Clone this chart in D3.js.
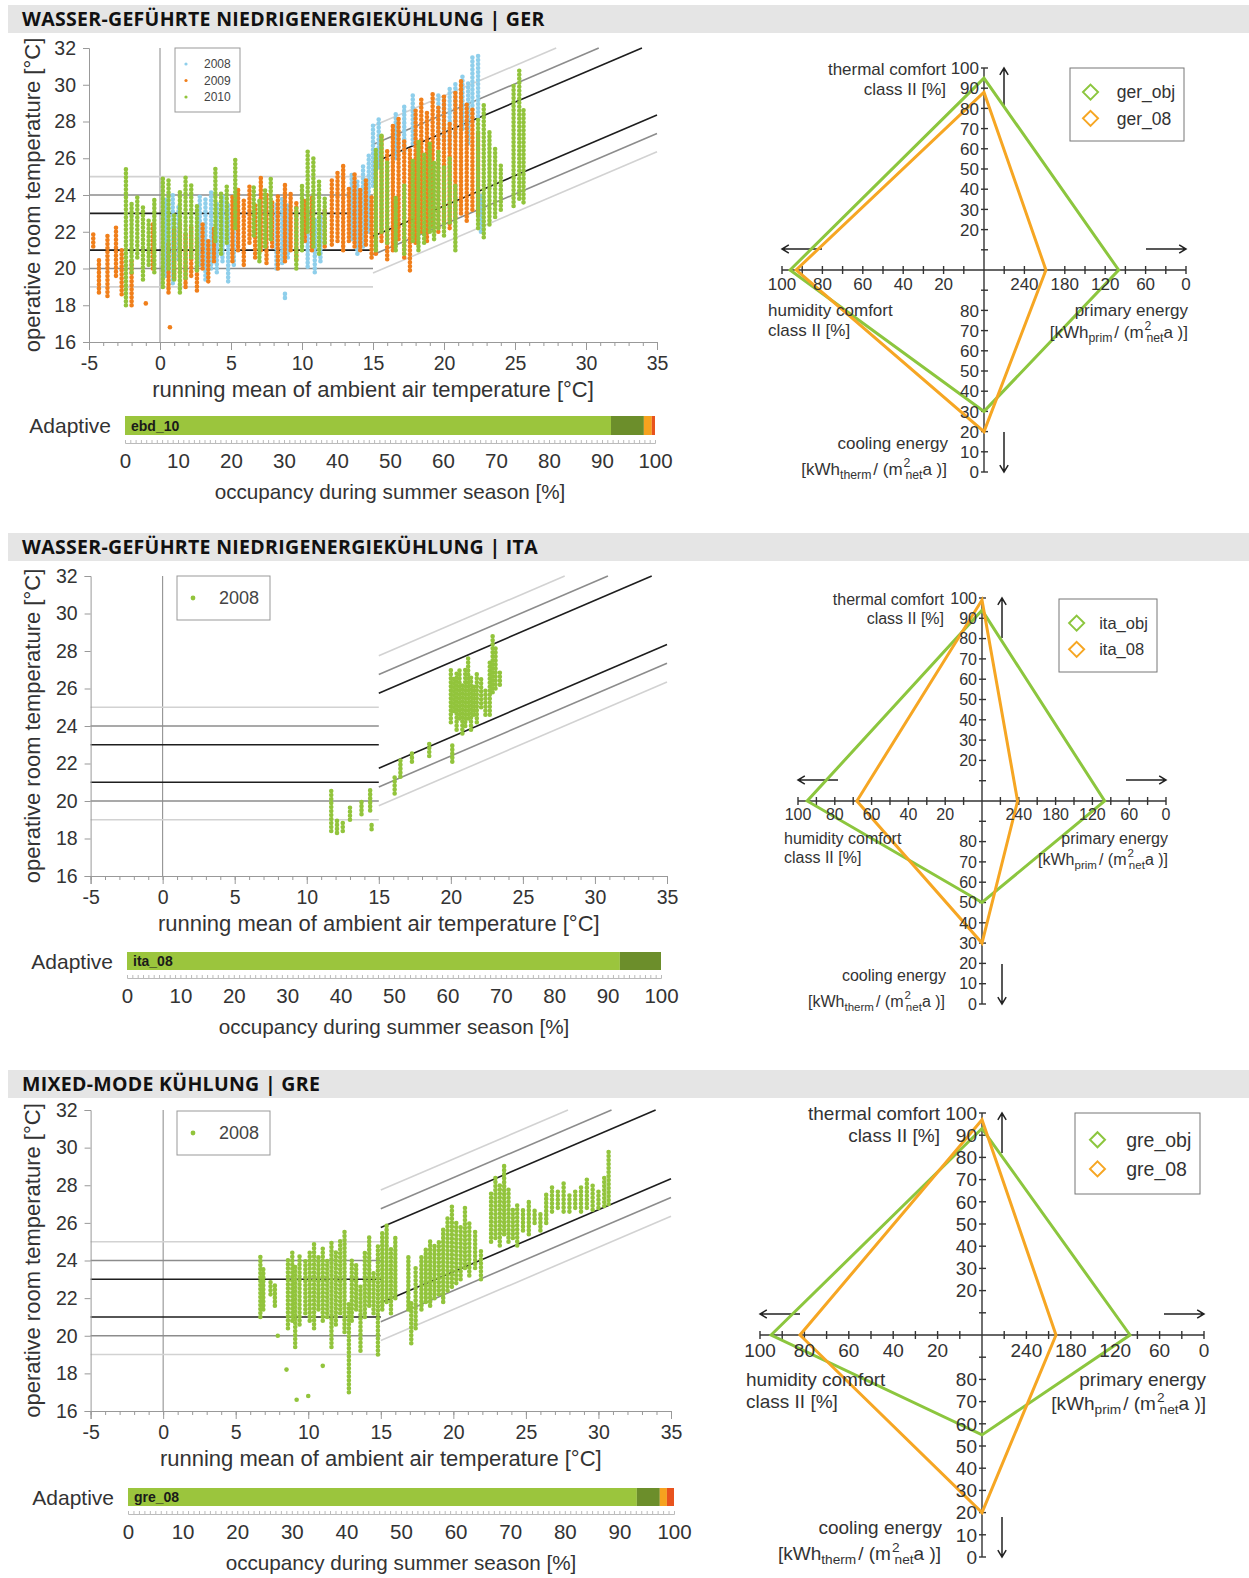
<!DOCTYPE html>
<html>
<head>
<meta charset="utf-8">
<script src="https://cdn.jsdelivr.net/npm/d3@7"></script>
<style>
  body { margin: 0; background: #fff; }
  svg { display: block; font-family: "Liberation Sans", Arial, sans-serif; }
</style>
</head>
<body>
<svg id="chart" width="1249" height="1578"></svg>
<script>
// ---- tick labels ----
var tempTicks = [-5, 0, 5, 10, 15, 20, 25, 30, 35];
var roomTicks = [16, 18, 20, 22, 24, 26, 28, 30, 32];
var occTicks = [0, 10, 20, 30, 40, 50, 60, 70, 80, 90, 100];
var comfortTicks = [20, 30, 40, 50, 60, 70, 80, 90, 100];
var coolingTicks = [80, 70, 60, 50, 40, 30, 20, 10, 0];
var humidityTicks = [100, 80, 60, 40, 20];
var primaryTicks = [240, 180, 120, 60, 0];

// ---- comfort band (EN 15251), temperatures ----
var bandLevels = [19, 20, 21, 23, 24, 25];                 // flat part, -5..15 °C
var bandSloped = [                                         // [x0, y0, x1, y1]
  [15, 19.75, 35, 26.35], [15, 20.75, 35, 27.35], [15, 21.75, 35, 28.35],
  [15, 25.75, 33.94, 32], [15, 26.75, 30.9, 32], [15, 27.75, 27.9, 32]
];

// ---- scatter strips [running mean, room temp low, room temp high] ----
var ger2008 = [
  [0.4, 19.6, 23.8], [0.9, 19.2, 24.1], [1.3, 20.5, 23.5], [2.8, 20.2, 24.0], [3.2, 19.4, 23.8],
  [3.6, 20.0, 24.2], [4.0, 19.8, 23.6], [4.4, 20.4, 24.0], [4.8, 19.3, 23.5], [5.2, 20.2, 23.8],
  [8.2, 20.0, 23.6], [8.6, 20.3, 24.0], [8.8, 18.4, 18.8], [9.0, 20.6, 23.5], [10.4, 20.1, 23.2],
  [10.9, 19.8, 22.8], [11.3, 20.4, 23.0], [13.5, 21.6, 25.2], [13.9, 20.8, 24.8], [14.3, 21.2, 25.6],
  [14.7, 22.0, 26.2], [15.0, 24.5, 27.8], [15.4, 25.5, 28.2], [16.6, 26.0, 28.6], [17.2, 26.4, 28.8],
  [17.8, 26.8, 29.5], [19.6, 26.8, 29.6], [20.0, 27.0, 29.2], [20.4, 26.5, 29.8], [20.8, 27.2, 30.1],
  [21.3, 27.6, 30.6], [21.7, 26.8, 30.2], [22.0, 28.0, 31.7], [22.4, 28.3, 31.6], [22.6, 22.0, 24.0]
];
var ger2009 = [
  [-4.7, 21.2, 22.0], [-4.3, 18.7, 20.5], [-3.7, 18.5, 21.9], [-3.1, 19.6, 22.3], [-2.7, 18.6, 21.0],
  [-2.0, 18.0, 20.4], [-1.0, 18.1, 18.2], [-0.5, 20.0, 22.6], [0.7, 16.8, 16.9], [0.6, 18.7, 21.5],
  [1.0, 19.5, 22.3], [1.4, 19.8, 22.6], [1.8, 19.0, 22.0], [2.2, 19.6, 22.4], [2.6, 18.8, 21.8],
  [3.0, 20.0, 22.5], [3.4, 19.3, 21.6], [3.8, 20.4, 22.3], [5.1, 20.4, 24.0], [5.5, 21.0, 24.3],
  [5.9, 20.2, 23.8], [6.3, 21.4, 24.6], [6.7, 20.6, 23.6], [7.1, 21.0, 25.0], [7.5, 20.3, 24.1],
  [7.9, 21.2, 23.8], [8.3, 20.0, 24.0], [8.8, 20.4, 24.6], [9.2, 21.0, 24.2], [9.6, 20.5, 23.6],
  [10.2, 21.5, 23.8], [10.7, 21.0, 24.0], [11.6, 21.2, 23.2], [12.1, 21.3, 24.8], [12.5, 21.5, 25.4],
  [12.9, 21.0, 25.6], [13.3, 21.5, 24.5], [13.7, 21.2, 25.2], [14.1, 21.0, 24.4], [14.5, 21.3, 25.0],
  [14.9, 20.6, 24.0], [15.2, 20.8, 26.0], [15.6, 21.5, 27.2], [16.0, 20.5, 26.5], [16.4, 21.0, 27.8],
  [16.8, 21.6, 28.3], [17.2, 20.6, 27.0], [17.6, 19.9, 26.5], [18.0, 21.4, 28.8], [18.4, 22.0, 29.2],
  [18.8, 21.5, 28.5], [19.2, 22.3, 29.5], [19.6, 22.0, 28.9], [20.0, 22.6, 29.4], [20.4, 22.2, 28.0],
  [20.8, 22.8, 29.6], [21.2, 23.0, 30.2], [21.6, 22.6, 29.0], [22.0, 23.2, 28.8], [22.4, 23.0, 27.5]
];
var ger2010 = [
  [-2.4, 18.0, 25.6], [-2.0, 19.8, 23.6], [-1.6, 20.6, 24.0], [-1.2, 19.4, 23.4], [-0.8, 20.2, 22.8],
  [-0.4, 19.8, 23.8], [0.2, 19.0, 25.0], [0.6, 20.0, 24.8], [1.0, 19.4, 23.0], [1.4, 18.7, 24.2],
  [1.8, 19.5, 25.0], [2.2, 20.6, 24.6], [2.6, 19.9, 23.4], [3.9, 21.5, 25.6], [4.3, 20.8, 24.2],
  [4.7, 21.4, 24.6], [5.3, 22.2, 26.0], [6.6, 21.8, 24.6], [7.0, 20.4, 23.8], [7.4, 21.2, 24.4],
  [7.8, 21.6, 25.0], [9.6, 20.0, 23.4], [10.0, 21.0, 24.6], [10.4, 22.0, 26.4], [10.8, 21.2, 26.2],
  [11.2, 20.8, 24.8], [11.6, 21.4, 24.0], [15.2, 21.0, 26.6], [15.6, 22.0, 27.4], [16.0, 21.4, 25.8],
  [16.6, 21.0, 24.0], [17.2, 20.8, 24.6], [17.8, 21.5, 26.0], [18.2, 21.0, 27.0], [18.6, 21.4, 26.2],
  [19.0, 22.0, 26.8], [19.3, 21.6, 25.8], [19.6, 22.2, 26.4], [20.0, 21.8, 25.6], [20.4, 22.5, 26.0],
  [20.8, 21.0, 24.6], [22.4, 22.2, 28.2], [22.8, 21.7, 29.0], [23.2, 22.4, 27.6], [23.6, 22.8, 26.6],
  [24.0, 23.2, 25.8], [24.9, 23.4, 30.0], [25.3, 23.8, 30.8], [25.6, 23.6, 28.8]
];
var ita2008 = [
  [11.7, 18.4, 20.6], [12.1, 18.3, 19.0], [12.5, 18.4, 19.0], [13.0, 19.0, 19.7], [13.8, 19.3, 20.0],
  [14.4, 19.5, 20.6], [14.5, 18.5, 18.9], [16.1, 20.4, 21.3], [16.5, 21.3, 22.3], [17.3, 22.1, 22.7],
  [18.5, 22.4, 23.2], [20.1, 22.1, 23.1], [20.0, 24.2, 27.0], [20.2, 24.8, 26.6], [20.4, 23.8, 26.8],
  [20.6, 24.4, 27.0], [20.8, 23.6, 26.2], [21.0, 24.0, 27.2], [21.2, 24.4, 27.7], [21.4, 23.8, 26.6],
  [21.6, 24.6, 26.2], [21.8, 24.2, 26.8], [22.1, 25.0, 26.6], [22.4, 24.6, 26.0], [22.7, 24.6, 27.4],
  [22.9, 25.8, 28.8], [23.1, 26.0, 28.2], [23.4, 26.2, 27.0]
];
var gre2008 = [
  [6.7, 21.0, 24.3], [6.9, 21.4, 23.6], [7.4, 22.2, 23.0], [7.7, 21.6, 22.8], [7.9, 20.0, 20.1],
  [8.5, 18.2, 18.3], [8.6, 20.4, 24.2], [8.9, 20.8, 24.6], [9.1, 19.4, 23.8], [9.2, 16.6, 16.7],
  [9.4, 20.6, 24.4], [9.8, 21.2, 24.0], [10.0, 16.8, 16.9], [10.1, 20.8, 24.6], [10.4, 20.4, 24.9],
  [10.7, 21.4, 24.2], [11.0, 18.4, 18.5], [11.0, 20.8, 24.8], [11.3, 21.0, 24.0], [11.6, 19.4, 25.0],
  [11.9, 20.6, 24.6], [12.2, 21.2, 25.2], [12.5, 20.2, 25.7], [12.8, 17.0, 21.8], [13.0, 20.8, 24.2],
  [13.3, 21.4, 23.8], [13.6, 19.2, 22.8], [13.9, 21.0, 24.6], [14.2, 21.6, 25.3], [14.5, 21.2, 23.4],
  [14.8, 19.0, 24.8], [15.1, 21.4, 25.6], [15.4, 21.8, 26.0], [15.7, 21.2, 24.8], [16.0, 22.0, 25.4],
  [16.9, 21.4, 24.2], [17.1, 19.6, 21.8], [17.4, 20.4, 23.6], [17.8, 21.4, 24.2], [18.1, 21.8, 24.6],
  [18.4, 21.6, 25.2], [18.7, 22.0, 24.8], [19.0, 22.2, 25.0], [19.3, 21.8, 25.8], [19.6, 22.4, 26.4],
  [19.9, 22.6, 27.0], [20.2, 22.8, 26.2], [20.5, 23.0, 25.8], [20.8, 23.6, 26.8], [21.1, 23.2, 26.0],
  [21.5, 23.6, 25.6], [21.9, 23.0, 24.6], [22.6, 25.0, 27.6], [22.9, 25.2, 28.6], [23.2, 24.8, 28.0],
  [23.5, 25.4, 29.1], [23.8, 25.0, 27.8], [24.1, 25.2, 26.8], [24.4, 24.8, 27.0], [24.8, 25.6, 26.8],
  [25.2, 25.4, 27.2], [25.6, 26.0, 26.8], [26.0, 25.6, 26.6], [26.4, 26.0, 27.6], [26.8, 26.6, 28.0],
  [27.2, 26.8, 27.8], [27.6, 26.6, 28.2], [28.0, 26.6, 27.6], [28.4, 26.8, 27.8], [28.8, 26.6, 28.0],
  [29.2, 26.8, 28.4], [29.6, 26.7, 28.0], [30.0, 26.8, 27.8], [30.4, 26.9, 28.6], [30.7, 27.0, 29.8]
];

// ---- adaptive occupancy shares [%] (cat I, II, III, outside) ----
var gerBar = [91.7, 6.2, 1.5, 0.6];
var itaBar = [92.3, 7.7];
var greBar = [93.2, 4.2, 1.3, 1.3];

// ---- radar values: [thermal comfort %, primary energy, cooling energy, humidity comfort %] ----
var gerObj = [95, 100, 30, 96];
var ger08  = [88, 208, 20, 93];
var itaObj = [94, 100, 50, 95];
var ita08  = [99, 242, 30, 68];
var greObj = [93, 100, 55, 95];
var gre08  = [97, 200, 20, 82];

var blue = "#8fcfeb", orange = "#f07f1b", green = "#92c43c";
var radarGreen = "#8cc63e", radarOrange = "#f6a623";
var bandColors = ["#d2d2d2", "#8c8c8c", "#1e1e1e", "#1e1e1e", "#8c8c8c", "#d2d2d2"];
var slopeColors = ["#d2d2d2", "#8c8c8c", "#1e1e1e", "#1e1e1e", "#8c8c8c", "#d2d2d2"];
var barColors = ["#9bc53d", "#6c8e2b", "#f6a21e", "#e8531d"];

var panels = [
  {
    title: "WASSER-GEFÜHRTE NIEDRIGENERGIEKÜHLUNG | GER", hdr: 5,
    sc: { x0: 89, x1: 657, y0: 48, y1: 342 },
    series: [{ data: ger2008, color: blue, name: "2008" }, { data: ger2009, color: orange, name: "2009" }, { data: ger2010, color: green, name: "2010" }],
    legend: { x: 175, y: 48, w: 65, h: 64, fs: 12, dx: 11, tx: 29, row: 16.5, first: 16 },
    bar: { x0: 125, x1: 655, y: 416, h: 19, label: "ebd_10", data: gerBar },
    radar: { cx: 984, cy: 270, rh: 202, rv: 202, fs: 17, obj: gerObj, act: ger08, names: ["ger_obj", "ger_08"],
             leg: { x: 1070, y: 68, w: 114, h: 73 } }
  },
  {
    title: "WASSER-GEFÜHRTE NIEDRIGENERGIEKÜHLUNG | ITA", hdr: 533,
    sc: { x0: 90.6, x1: 667, y0: 576, y1: 876 },
    series: [{ data: ita2008, color: green, name: "2008" }],
    legend: { x: 177, y: 576, w: 93, h: 44, fs: 18, dx: 16, tx: 42, row: 0, first: 22 },
    bar: { x0: 127, x1: 661, y: 952, h: 18, label: "ita_08", data: itaBar },
    radar: { cx: 982, cy: 801, rh: 184, rv: 203, fs: 16, obj: itaObj, act: ita08, names: ["ita_obj", "ita_08"],
             leg: { x: 1059, y: 599, w: 98, h: 73 } }
  },
  {
    title: "MIXED-MODE KÜHLUNG | GRE", hdr: 1070,
    sc: { x0: 90.6, x1: 671, y0: 1110, y1: 1411 },
    series: [{ data: gre2008, color: green, name: "2008" }],
    legend: { x: 177, y: 1111, w: 93, h: 44, fs: 18, dx: 16, tx: 42, row: 0, first: 22 },
    bar: { x0: 128, x1: 674, y: 1488, h: 18, label: "gre_08", data: greBar },
    radar: { cx: 982, cy: 1335, rh: 222, rv: 222, fs: 19, obj: greObj, act: gre08, names: ["gre_obj", "gre_08"],
             leg: { x: 1075, y: 1113, w: 125, h: 81 } }
  }
];

var svg = d3.select("#chart");
var textColor = "#333";
var tickFont = "'Liberation Sans', Arial, sans-serif";

panels.forEach(function (p) {
  // header bar
  svg.append("rect").attr("x", 8).attr("y", p.hdr).attr("width", 1241).attr("height", 28).attr("fill", "#e5e5e5");
  svg.append("text").attr("x", 22).attr("y", p.hdr + 21)
    .attr("font-family", "'Open Sans', sans-serif").attr("font-weight", 700).attr("font-size", 19.5)
    .attr("letter-spacing", 0.3).attr("fill", "#111").text(p.title);

  drawScatter(p);
  drawBar(p);
  drawRadar(p);
});

function drawScatter(p) {
  var s = p.sc;
  var x = d3.scaleLinear().domain([-5, 35]).range([s.x0, s.x1]);
  var y = d3.scaleLinear().domain([16, 32]).range([s.y1, s.y0]);
  var g = svg.append("g");

  // zero line
  g.append("line").attr("x1", x(0)).attr("x2", x(0)).attr("y1", y(16)).attr("y2", y(32))
    .attr("stroke", "#888").attr("stroke-width", 1);

  // comfort band
  g.selectAll("line.flat").data(bandLevels).join("line").attr("class", "flat")
    .attr("x1", x(-5)).attr("x2", x(15))
    .attr("y1", function (d) { return y(d); }).attr("y2", function (d) { return y(d); })
    .attr("stroke", function (d, i) { return bandColors[i]; }).attr("stroke-width", 1.6);
  g.selectAll("line.slope").data(bandSloped).join("line").attr("class", "slope")
    .attr("x1", function (d) { return x(d[0]); }).attr("y1", function (d) { return y(d[1]); })
    .attr("x2", function (d) { return x(d[2]); }).attr("y2", function (d) { return y(d[3]); })
    .attr("stroke", function (d, i) { return slopeColors[i]; }).attr("stroke-width", 1.6);

  // point clouds
  p.series.forEach(function (ser) {
    g.append("g").selectAll("line").data(ser.data).join("line")
      .attr("x1", function (d) { return x(d[0]); }).attr("x2", function (d) { return x(d[0]); })
      .attr("y1", function (d) { return y(d[1]); }).attr("y2", function (d) { return y(d[2]); })
      .attr("stroke", ser.color).attr("stroke-width", 4.6)
      .attr("stroke-linecap", "round").attr("stroke-dasharray", "0 4");
  });

  // axes
  var xAxis = g.append("g").attr("transform", "translate(0," + s.y1 + ")")
    .call(d3.axisBottom(x).tickValues(tempTicks).tickSize(8).tickPadding(6).tickFormat(function (d) { return String(d); }));
  g.append("g").attr("transform", "translate(0," + s.y1 + ")")
    .call(d3.axisBottom(x).tickValues(d3.range(-5, 36, 1)).tickSize(4).tickFormat(""))
    .select(".domain").remove();
  var yAxis = g.append("g").attr("transform", "translate(" + s.x0 + ",0)")
    .call(d3.axisLeft(y).tickValues(roomTicks).tickSize(6).tickPadding(7));
  [xAxis, yAxis].forEach(function (a) {
    a.selectAll("text").attr("font-size", 19.5).attr("fill", textColor).attr("font-family", tickFont);
  });
  g.selectAll(".domain, .tick line").attr("stroke", "#999");

  g.append("text").attr("x", (s.x0 + s.x1) / 2).attr("y", s.y1 + 55).attr("text-anchor", "middle")
    .attr("font-size", 22).attr("fill", textColor).text("running mean of ambient air temperature [°C]");
  g.append("text").attr("transform", "translate(40," + (s.y0 + s.y1) / 2 + ") rotate(-90)")
    .attr("text-anchor", "middle").attr("font-size", 22).attr("fill", textColor)
    .text("operative room temperature [°C]");

  // legend
  var L = p.legend;
  var lg = g.append("g");
  lg.append("rect").attr("x", L.x).attr("y", L.y).attr("width", L.w).attr("height", L.h)
    .attr("fill", "#fff").attr("stroke", "#999");
  p.series.forEach(function (ser, i) {
    var yy = L.y + L.first + i * L.row;
    lg.append("circle").attr("cx", L.x + L.dx).attr("cy", yy).attr("r", L.fs > 14 ? 2.4 : 1.6).attr("fill", ser.color);
    lg.append("text").attr("x", L.x + L.tx).attr("y", yy).attr("dy", "0.35em")
      .attr("font-size", L.fs).attr("fill", "#444").text(ser.name);
  });
}

function drawBar(p) {
  var b = p.bar;
  var x = d3.scaleLinear().domain([0, 100]).range([b.x0, b.x1]);
  var g = svg.append("g");
  var starts = [];
  var acc = 0;
  b.data.forEach(function (v) { starts.push([acc, acc + v]); acc += v; });
  g.selectAll("rect").data(starts).join("rect")
    .attr("x", function (d) { return x(d[0]); }).attr("width", function (d) { return x(d[1]) - x(d[0]); })
    .attr("y", b.y).attr("height", b.h)
    .attr("fill", function (d, i) { return barColors[i]; });
  g.append("text").attr("x", b.x0 + 6).attr("y", b.y + b.h / 2).attr("dy", "0.36em")
    .attr("font-size", 14).attr("font-weight", 700).attr("fill", "#1a1a1a").text(b.label);
  g.append("text").attr("x", b.x0 - 14).attr("y", b.y + b.h / 2).attr("dy", "0.36em")
    .attr("text-anchor", "end").attr("font-size", 21).attr("fill", textColor).text("Adaptive");

  var ry = b.y + b.h + 8;
  var rul = g.append("g").attr("transform", "translate(0," + ry + ")")
    .call(d3.axisTop(x).tickValues(d3.range(0, 101, 1)).tickSize(3).tickFormat(""));
  rul.selectAll(".domain, .tick line").attr("stroke", "#bbb");
  var ax = g.append("g").attr("transform", "translate(0," + ry + ")")
    .call(d3.axisBottom(x).tickValues(occTicks).tickSize(0).tickPadding(10));
  ax.select(".domain").remove();
  ax.selectAll("text").attr("font-size", 20.5).attr("fill", textColor).attr("font-family", tickFont);
  g.append("text").attr("x", (b.x0 + b.x1) / 2).attr("y", ry + 56).attr("text-anchor", "middle")
    .attr("font-size", 20.7).attr("fill", textColor).text("occupancy during summer season [%]");
}

function drawRadar(p) {
  var r = p.radar, cx = r.cx, cy = r.cy, fs = r.fs;
  var thermal = d3.scaleLinear().domain([0, 100]).range([cy, cy - r.rv]);
  var cooling = d3.scaleLinear().domain([100, 0]).range([cy, cy + r.rv]);
  var humidity = d3.scaleLinear().domain([0, 100]).range([cx, cx - r.rh]);
  var primary = d3.scaleLinear().domain([300, 0]).range([cx, cx + r.rh]);
  var g = svg.append("g");
  var ink = "#333";

  // axes
  g.append("line").attr("x1", cx).attr("x2", cx).attr("y1", cy - r.rv).attr("y2", cy + r.rv).attr("stroke", ink).attr("stroke-width", 1.4);
  g.append("line").attr("x1", cx - r.rh).attr("x2", cx + r.rh).attr("y1", cy).attr("y2", cy).attr("stroke", ink).attr("stroke-width", 1.4);
  var vt = d3.range(-10, 11).filter(function (k) { return k !== 0; });
  g.selectAll("line.vt").data(vt).join("line").attr("class", "vt")
    .attr("x1", cx - 3).attr("x2", cx + 4)
    .attr("y1", function (k) { return cy - k * r.rv / 10; }).attr("y2", function (k) { return cy - k * r.rv / 10; })
    .attr("stroke", ink).attr("stroke-width", 1.4);
  g.selectAll("line.ht").data(vt).join("line").attr("class", "ht")
    .attr("y1", cy - 4).attr("y2", cy + 4)
    .attr("x1", function (k) { return cx + k * r.rh / 10; }).attr("x2", function (k) { return cx + k * r.rh / 10; })
    .attr("stroke", ink).attr("stroke-width", 1.4);

  // arrows
  function arrow(x1, y1, x2, y2) {
    var a = Math.atan2(y2 - y1, x2 - x1), h = 8, w = 0.55;
    g.append("path")
      .attr("d", "M" + x1 + "," + y1 + "L" + x2 + "," + y2 +
        "M" + (x2 - h * Math.cos(a - w)) + "," + (y2 - h * Math.sin(a - w)) + "L" + x2 + "," + y2 +
        "L" + (x2 - h * Math.cos(a + w)) + "," + (y2 - h * Math.sin(a + w)))
      .attr("fill", "none").attr("stroke", "#222").attr("stroke-width", 1.5);
  }
  arrow(cx + 20, cy - r.rv + 40, cx + 20, cy - r.rv);
  arrow(cx + 20, cy + r.rv - 40, cx + 20, cy + r.rv);
  arrow(cx - r.rh + 40, cy - 21, cx - r.rh, cy - 21);
  arrow(cx + r.rh - 40, cy - 21, cx + r.rh, cy - 21);

  // polygons
  function pts(v) {
    return [[cx, thermal(v[0])], [primary(v[1]), cy], [cx, cooling(v[2])], [humidity(v[3]), cy]];
  }
  [[r.obj, radarGreen], [r.act, radarOrange]].forEach(function (s) {
    g.append("path").attr("d", d3.line()(pts(s[0])) + "Z")
      .attr("fill", "none").attr("stroke", s[1]).attr("stroke-width", 3).attr("stroke-linejoin", "miter");
  });

  // tick labels
  g.selectAll("text.tt").data(comfortTicks).join("text").attr("class", "tt")
    .attr("x", cx - 5).attr("y", function (d) { return thermal(d); }).attr("dy", "0.36em")
    .attr("text-anchor", "end").attr("font-size", fs).attr("fill", ink).text(function (d) { return d; });
  g.selectAll("text.ct").data(coolingTicks).join("text").attr("class", "ct")
    .attr("x", cx - 5).attr("y", function (d) { return cooling(d); }).attr("dy", "0.36em")
    .attr("text-anchor", "end").attr("font-size", fs).attr("fill", ink).text(function (d) { return d; });
  g.selectAll("text.hu").data(humidityTicks).join("text").attr("class", "hu")
    .attr("x", function (d) { return humidity(d); }).attr("y", cy + fs + 3)
    .attr("text-anchor", "middle").attr("font-size", fs).attr("fill", ink).text(function (d) { return d; });
  g.selectAll("text.pr").data(primaryTicks).join("text").attr("class", "pr")
    .attr("x", function (d) { return primary(d); }).attr("y", cy + fs + 3)
    .attr("text-anchor", "middle").attr("font-size", fs).attr("fill", ink).text(function (d) { return d; });

  // axis names
  function label(x, y, anchor, lines) {
    lines.forEach(function (ln, i) {
      g.append("text").attr("x", x).attr("y", y + i * (fs + 3)).attr("text-anchor", anchor)
        .attr("font-size", fs).attr("fill", ink).text(ln);
    });
  }
  var off = fs > 18 ? 42 : 38;
  label(cx - off, cy - r.rv + 7, "end", ["thermal comfort", "class II [%]"]);
  label(cx - r.rh - 14, cy + fs * 2.7, "start", ["humidity comfort", "class II [%]"]);
  label(cx + r.rh + 2, cy + fs * 2.7, "end", ["primary energy"]);
  unitLabel(cx + r.rh + 2, cy + fs * 2.7 + fs + 5, "prim");
  label(cx - off + 2, cy + r.rv - 23, "end", ["cooling energy"]);
  unitLabel(cx - off + 1, cy + r.rv + 3, "therm");

  function unitLabel(x, y, sub) {
    var t = g.append("text").attr("x", x).attr("y", y).attr("text-anchor", "end")
      .attr("font-size", fs).attr("fill", ink);
    var sm = fs * 0.72;
    t.append("tspan").text("[kWh");
    t.append("tspan").attr("font-size", sm).attr("dy", 4).text(sub);
    t.append("tspan").attr("dy", -4).attr("dx", 2).text("/ (m");
    t.append("tspan").attr("font-size", sm).attr("dy", -8).attr("dx", 1).text("2");
    t.append("tspan").attr("font-size", sm).attr("dy", 12).attr("dx", -5).text("net");
    t.append("tspan").attr("dy", -4).text("a )]");
  }

  // legend
  var L = r.leg;
  g.append("rect").attr("x", L.x).attr("y", L.y).attr("width", L.w).attr("height", L.h)
    .attr("fill", "#fff").attr("stroke", "#777");
  [[r.names[0], radarGreen], [r.names[1], radarOrange]].forEach(function (e, i) {
    var yy = L.y + L.h * (0.33 + i * 0.36);
    var dx = L.x + L.w * 0.18, s = 7.5;
    g.append("path").attr("d", "M" + dx + "," + (yy - s) + "L" + (dx + s) + "," + yy + "L" + dx + "," + (yy + s) + "L" + (dx - s) + "," + yy + "Z")
      .attr("fill", "none").attr("stroke", e[1]).attr("stroke-width", 2);
    g.append("text").attr("x", L.x + L.w * 0.41).attr("y", yy).attr("dy", "0.36em")
      .attr("font-size", fs + 0.5).attr("fill", ink).text(e[0]);
  });
}
</script>
</body>
</html>
